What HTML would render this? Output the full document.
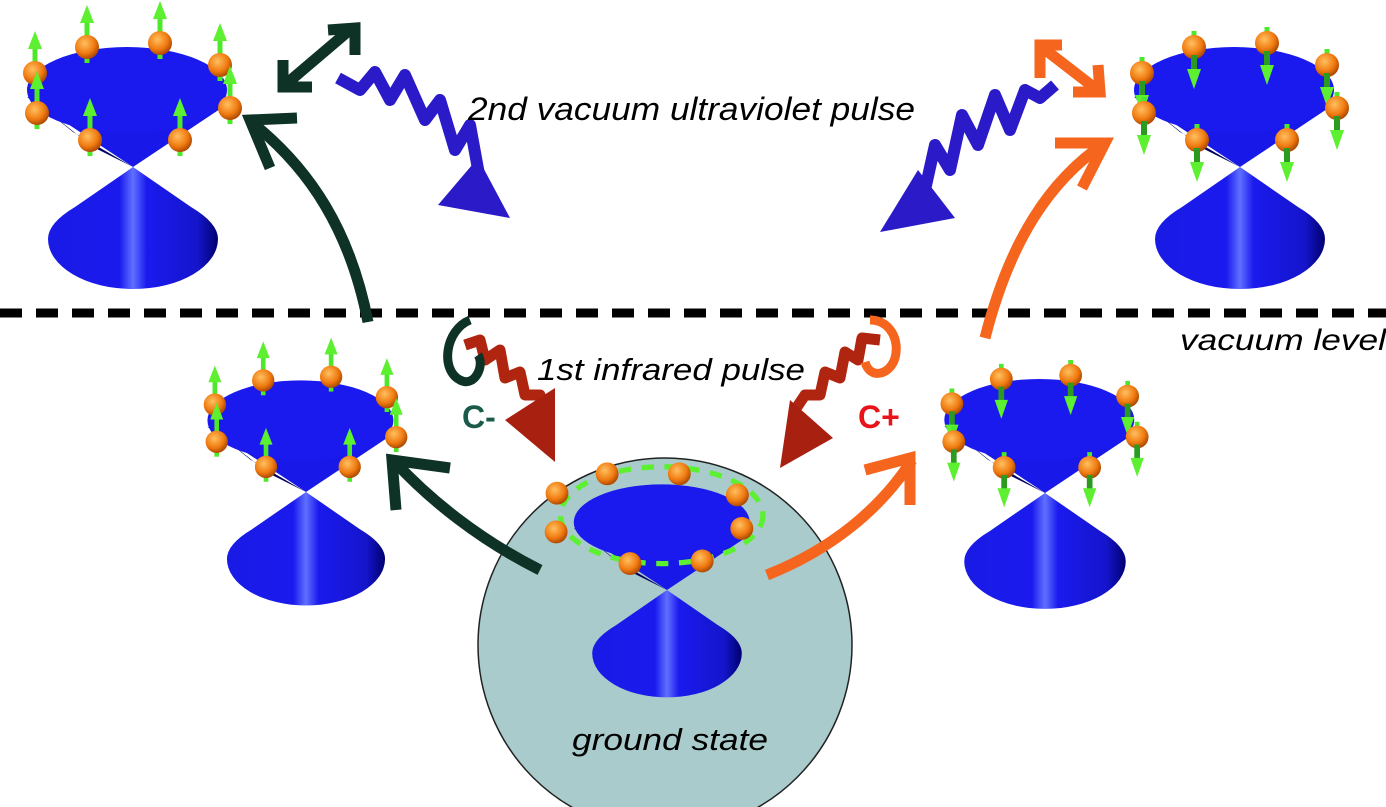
<!DOCTYPE html>
<html><head><meta charset="utf-8"><style>
html,body{margin:0;padding:0;background:#fff;}
svg{display:block}
text{font-family:"Liberation Sans",sans-serif;}
</style></head><body>
<svg width="1386" height="807" viewBox="0 0 1386 807" xmlns="http://www.w3.org/2000/svg">
<defs>
<linearGradient id="bot" x1="0" x2="1" y1="0" y2="0">
<stop offset="0" stop-color="#1a1ae6"/><stop offset="0.42" stop-color="#1a1aee"/><stop offset="0.5" stop-color="#6070ff"/><stop offset="0.58" stop-color="#1a1aee"/><stop offset="0.88" stop-color="#1515cc"/><stop offset="1" stop-color="#000070"/>
</linearGradient>
<radialGradient id="ball" cx="0.4" cy="0.35" r="0.7">
<stop offset="0" stop-color="#ffc060"/><stop offset="0.6" stop-color="#f07a10"/><stop offset="1" stop-color="#a04000"/>
</radialGradient>
<g id="cone">
<path d="M0,0 L-58,40 Q-85,56 -85,72 A85,50 0 0 0 85,72 Q85,56 58,40 Z" fill="url(#bot)"/>
<path d="M-106,-70 L0,0 L93,-62 Z" fill="#1818e8"/>
<path d="M-106,-72 L-60,-35 L0,0 L-40,-20 Z" fill="#000060"/>
<ellipse cx="-6" cy="-77" rx="100" ry="43" fill="#1a1aee"/>
</g>
<g id="up"><line x1="0" y1="0" x2="0" y2="-28" stroke="#4de82a" stroke-width="5"/><path d="M-7,-24 L0,-42 L7,-24 Z" fill="#5cf030"/><line x1="0" y1="0" x2="0" y2="16" stroke="#4de82a" stroke-width="5"/><circle r="12" fill="url(#ball)"/></g>
<g id="dn"><line x1="0" y1="-16" x2="0" y2="0" stroke="#4de82a" stroke-width="5"/><circle r="12" fill="url(#ball)"/><line x1="0" y1="8" x2="0" y2="26" stroke="#2a9a20" stroke-width="6"/><path d="M-7,22 L0,42 L7,22 Z" fill="#5cf030"/></g>
<g id="coneUp"><use href="#cone"/>
<use href="#up" x="-46" y="-120"/><use href="#up" x="27" y="-124"/><use href="#up" x="-98" y="-94"/><use href="#up" x="87" y="-102"/>
<use href="#up" x="-96" y="-54"/><use href="#up" x="97" y="-59"/><use href="#up" x="-43" y="-27"/><use href="#up" x="47" y="-27"/></g>
<g id="coneDn"><use href="#cone"/>
<use href="#dn" x="-46" y="-120"/><use href="#dn" x="27" y="-124"/><use href="#dn" x="-98" y="-94"/><use href="#dn" x="87" y="-102"/>
<use href="#dn" x="-96" y="-54"/><use href="#dn" x="97" y="-59"/><use href="#dn" x="-43" y="-27"/><use href="#dn" x="47" y="-27"/></g>
</defs>

<line x1="0" y1="313" x2="1386" y2="313" stroke="#000" stroke-width="9" stroke-dasharray="22,14"/>
<text x="1180" y="350" font-size="30" font-style="italic" textLength="206" lengthAdjust="spacingAndGlyphs">vacuum level</text>

<circle cx="665" cy="645" r="187" fill="#a9cbcb" stroke="#222" stroke-width="1.5"/>
<text x="572" y="750" font-size="31" font-style="italic" textLength="196" lengthAdjust="spacingAndGlyphs">ground state</text>

<use href="#coneUp" transform="translate(133,167)"/>
<use href="#coneDn" transform="translate(1240,167)"/>
<use href="#coneUp" transform="translate(306,492) scale(0.93)"/>
<use href="#coneDn" transform="translate(1045,493) scale(0.95)"/>
<g transform="translate(667,590) scale(0.88)">
<use href="#cone"/>
<g fill="none" stroke="#5cf030" stroke-width="6" stroke-dasharray="14,12">
<ellipse cx="-6" cy="-85" rx="115" ry="55"/>
</g>
<circle cx="-68" cy="-132" r="13" fill="url(#ball)"/><circle cx="14" cy="-132" r="13" fill="url(#ball)"/><circle cx="80" cy="-108" r="13" fill="url(#ball)"/><circle cx="-125" cy="-110" r="13" fill="url(#ball)"/>
<circle cx="-126" cy="-66" r="13" fill="url(#ball)"/><circle cx="85" cy="-70" r="13" fill="url(#ball)"/><circle cx="-42" cy="-30" r="13" fill="url(#ball)"/><circle cx="40" cy="-33" r="13" fill="url(#ball)"/>
</g>

<g fill="none" stroke="#0e3326" stroke-width="11">
<path d="M368,322 C350,230 310,170 255,125"/>
<path d="M297,118 L250,120 L270,168"/>
<path d="M540,570 C480,540 430,500 395,462"/>
<path d="M450,468 L392,460 L396,510"/>
<path d="M285,85 L352,28"/>
<path d="M283,60 L283,87 L312,87"/><path d="M328,30 L355,28 L355,55"/>
</g>
<g fill="none" stroke="#f5651e" stroke-width="11">
<path d="M767,575 C830,550 880,510 912,460"/>
<path d="M865,470 L910,458 L910,505"/>
<path d="M985,338 C1010,240 1050,180 1105,143"/>
<path d="M1055,143 L1105,143 L1082,188"/>
<path d="M1043,48 L1100,92"/>
<path d="M1040,78 L1040,45 L1062,45"/><path d="M1098,65 L1100,92 L1073,92"/>
</g>

<path d="M338,78 L360,90 L375,72 L390,100 L405,75 L425,120 L440,100 L455,150 L470,125 L480,180" fill="none" stroke="#2a1ac8" stroke-width="12" stroke-linejoin="round"/>
<path d="M438,205 L510,218 L478,158 Z" fill="#2a1ac8"/>
<path d="M1055,85 L1040,98 L1025,90 L1010,130 L995,95 L978,145 L962,115 L950,170 L935,145 L925,190" fill="none" stroke="#2a1ac8" stroke-width="12" stroke-linejoin="round"/>
<path d="M880,232 L955,218 L918,170 Z" fill="#2a1ac8"/>
<text x="468" y="120" font-size="32" font-style="italic" textLength="447" lengthAdjust="spacingAndGlyphs">2nd vacuum ultraviolet pulse</text>

<path d="M465,345 L480,340 L485,360 L500,350 L505,378 L520,372 L525,395 L540,395 L548,415" fill="none" stroke="#b02510" stroke-width="11" stroke-linejoin="round"/>
<path d="M505,420 L555,462 L555,388 Z" fill="#a82010"/>
<path d="M880,340 L862,338 L858,360 L845,352 L840,378 L825,372 L820,395 L805,395 L795,410" fill="none" stroke="#b02510" stroke-width="11" stroke-linejoin="round"/>
<path d="M780,468 L833,438 L790,400 Z" fill="#a82010"/>
<path d="M470,320 C445,330 440,370 460,380 C475,388 485,365 478,355" fill="none" stroke="#0e3326" stroke-width="9"/>
<path d="M870,320 C890,320 900,340 895,358 C890,375 870,380 865,362" fill="none" stroke="#f5651e" stroke-width="9"/>
<text x="537" y="380" font-size="31" font-style="italic" textLength="268" lengthAdjust="spacingAndGlyphs">1st infrared pulse</text>
<text x="462" y="428" font-size="32" font-weight="bold" fill="#1a5a48">C-</text>
<text x="858" y="428" font-size="32" font-weight="bold" fill="#e8141a">C+</text>
</svg>
</body></html>
